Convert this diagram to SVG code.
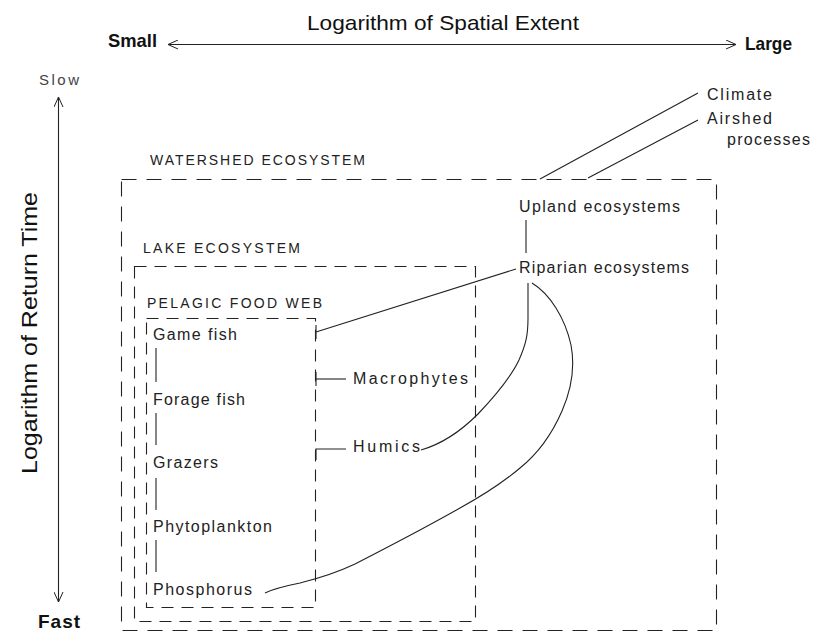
<svg xmlns="http://www.w3.org/2000/svg" width="814" height="633" viewBox="0 0 814 633">
<defs>
<marker id="ah" viewBox="0 0 10 10" refX="10" refY="5" markerWidth="10" markerHeight="10" markerUnits="userSpaceOnUse" orient="auto-start-reverse">
<path d="M0,0.5 L10,5 L0,9.5" fill="none" stroke="#222" stroke-width="1"/>
</marker>
<style>
text{font-family:"Liberation Sans",Arial,sans-serif;fill:#222}
.lbl{font-size:16px}
.cap{font-size:14px}
.ax{font-size:19px;fill:#111}
.line{fill:none;stroke:#222;stroke-width:1.1}
.dw{fill:none;stroke:#222;stroke-width:1.1;stroke-dasharray:15 10}
.dl{fill:none;stroke:#222;stroke-width:1.1;stroke-dasharray:12 8}
</style>
</defs>
<rect width="814" height="633" fill="#fff"/>

<g id="axes">
<text class="ax" x="307" y="30" textLength="272" lengthAdjust="spacingAndGlyphs" style="font-size:21px">Logarithm of Spatial Extent</text>
<text class="ax" x="108" y="47" textLength="49" lengthAdjust="spacingAndGlyphs" style="font-weight:bold">Small</text>
<text class="ax" x="745" y="50" textLength="47" lengthAdjust="spacingAndGlyphs" style="font-weight:bold">Large</text>
<line class="line" x1="168" y1="44.5" x2="736" y2="44.5" marker-start="url(#ah)" marker-end="url(#ah)"/>
<text x="39" y="85" style="font-size:15px;fill:#444" textLength="40" lengthAdjust="spacing">Slow</text>
<text x="38" y="628" style="font-size:19px;font-weight:bold;fill:#111" textLength="42" lengthAdjust="spacing">Fast</text>
<line class="line" x1="58.5" y1="97" x2="58.5" y2="602" marker-start="url(#ah)" marker-end="url(#ah)"/>
<text transform="translate(37,333) rotate(-90)" x="0" y="0" text-anchor="middle" style="font-size:22px;fill:#111" textLength="282" lengthAdjust="spacingAndGlyphs">Logarithm of Return Time</text>
</g>

<g id="watershed">
<rect class="dw" x="121.5" y="179.5" width="595" height="451"/>
<text class="cap" x="150" y="165" textLength="215" lengthAdjust="spacing">WATERSHED ECOSYSTEM</text>
</g>
<g id="lake">
<rect class="dl" x="134.5" y="266.5" width="341" height="355"/>
<text class="cap" x="143" y="253" textLength="157" lengthAdjust="spacing">LAKE ECOSYSTEM</text>
</g>
<g id="pelagic">
<rect class="dl" x="146.5" y="318.5" width="169" height="289"/>
<text class="cap" x="147" y="308" textLength="175" lengthAdjust="spacing">PELAGIC FOOD WEB</text>
</g>

<g id="game-fish"><text class="lbl" x="153" y="340" textLength="84" lengthAdjust="spacing">Game fish</text></g>
<g id="forage-fish"><text class="lbl" x="153" y="405" textLength="92" lengthAdjust="spacing">Forage fish</text></g>
<g id="grazers"><text class="lbl" x="153" y="468" textLength="65" lengthAdjust="spacing">Grazers</text></g>
<g id="phytoplankton"><text class="lbl" x="153" y="532" textLength="119" lengthAdjust="spacing">Phytoplankton</text></g>
<g id="phosphorus"><text class="lbl" x="153" y="595" textLength="99" lengthAdjust="spacing">Phosphorus</text></g>
<g id="macrophytes"><text class="lbl" x="353" y="384" textLength="115" lengthAdjust="spacing">Macrophytes</text></g>
<g id="humics"><text class="lbl" x="353" y="452" textLength="67" lengthAdjust="spacing">Humics</text></g>
<g id="upland"><text class="lbl" x="519" y="212" textLength="161" lengthAdjust="spacing">Upland ecosystems</text></g>
<g id="riparian"><text class="lbl" x="519" y="273" textLength="170" lengthAdjust="spacing">Riparian ecosystems</text></g>
<g id="climate"><text class="lbl" x="707" y="100" textLength="65" lengthAdjust="spacing">Climate</text></g>
<g id="airshed"><text class="lbl" x="707" y="124" textLength="65" lengthAdjust="spacing">Airshed</text><text class="lbl" x="727" y="145" textLength="83" lengthAdjust="spacing">processes</text></g>

<g id="connectors">
<line class="line" x1="156" y1="348" x2="156" y2="382"/>
<line class="line" x1="156" y1="413" x2="156" y2="445"/>
<line class="line" x1="156" y1="478" x2="156" y2="510"/>
<line class="line" x1="156" y1="540" x2="156" y2="572"/>
<line class="line" x1="526" y1="220" x2="526" y2="253"/>
<line class="line" x1="540" y1="179" x2="698" y2="93"/>
<line class="line" x1="588" y1="178" x2="698" y2="120"/>
<line class="line" x1="316" y1="325" x2="316" y2="339"/>
<line class="line" x1="316" y1="332" x2="516" y2="269"/>
<line class="line" x1="316" y1="372" x2="316" y2="386"/>
<line class="line" x1="316" y1="379" x2="346" y2="379"/>
<path class="line" d="M316,460 L316,449 L346,449"/>
<path class="line" d="M421,450 C442,444 462,430 478,414 C495,396 511,377 519,360 C526,344 528,335 528,318 L528,283"/>
<path class="line" d="M532,283 C550,294 565,318 571,345 C575,366 572,388 562,411 C552,434 540,452 520,468 C500,485 480,497 460,508 C430,525 392,545 355,564 C336,573 320,578 300,583 C285,586 275,588 265,593"/>
</g>
</svg>
